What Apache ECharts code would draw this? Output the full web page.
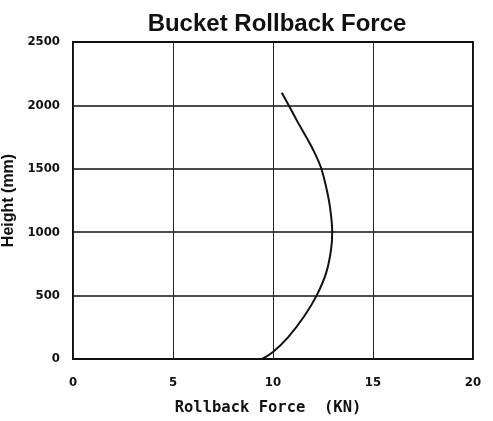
<!DOCTYPE html>
<html>
<head>
<meta charset="utf-8">
<script src="https://cdn.jsdelivr.net/npm/echarts@6/dist/echarts.min.js"></script>
<style>
html, body { margin: 0; padding: 0; background: #fff; }
#chart { width: 493px; height: 421px; }
</style>
</head>
<body>
<div id="chart"></div>
<script>
// rollback force (KN) against bucket height (mm)
var force = [9.45, 10.0, 10.75, 11.55, 12.18, 12.65, 12.9, 12.96, 12.86, 12.68, 12.42, 12.1, 11.7, 11.23, 10.79, 10.44];
var height = [0, 55, 170, 335, 500, 675, 860, 1000, 1185, 1340, 1500, 1620, 1740, 1870, 2000, 2100];

var points = force.map(function (f, i) { return [f, height[i]]; });

var labelFont = {
	color: '#111',
	fontFamily: 'DejaVu Sans Condensed',
	fontWeight: 'bold',
	fontSize: 13
};

var chart = echarts.init(document.getElementById('chart'));
chart.setOption({
	animation: false,
	backgroundColor: '#fff',
	title: {
		text: 'Bucket Rollback Force',
		left: 272,
		top: 7,
		textAlign: 'center',
		textStyle: {
			color: '#111',
			fontFamily: 'Liberation Sans',
			fontWeight: 'bold',
			fontSize: 24
		}
	},
	grid: {
		left: 73, right: 20, top: 42, bottom: 62,
		outerBoundsMode: 'none',
		show: true, borderColor: '#111', borderWidth: 2
	},
	xAxis: {
		type: 'value',
		min: 0, max: 20, interval: 5,
		name: 'Rollback Force  (KN)',
		nameLocation: 'middle',
		nameGap: 41,
		nameTextStyle: {
			color: '#111',
			fontFamily: 'DejaVu Sans Mono',
			fontWeight: 'bold',
			fontSize: 15.5,
			padding: [0, 10, 0, 0]
		},
		axisLine: { show: false },
		axisTick: { show: false },
		axisLabel: Object.assign({}, labelFont, { margin: 17 }),
		splitLine: { lineStyle: { color: '#222', width: 1 } }
	},
	yAxis: {
		type: 'value',
		min: 0, max: 2500, interval: 500,
		name: 'Height (mm)',
		nameLocation: 'middle',
		nameGap: 54,
		nameTextStyle: {
			color: '#111',
			fontFamily: 'Liberation Sans',
			fontWeight: 'bold',
			fontSize: 16
		},
		axisLine: { show: false },
		axisTick: { show: false },
		axisLabel: Object.assign({}, labelFont, { margin: 13, formatter: function (v) { return String(v); } }),
		splitLine: { lineStyle: { color: '#111', width: 1.6 } }
	},
	series: [{
		type: 'line',
		data: points,
		smooth: 0.4,
		showSymbol: false,
		lineStyle: { color: '#111', width: 2 }
	}]
});
</script>
</body>
</html>
